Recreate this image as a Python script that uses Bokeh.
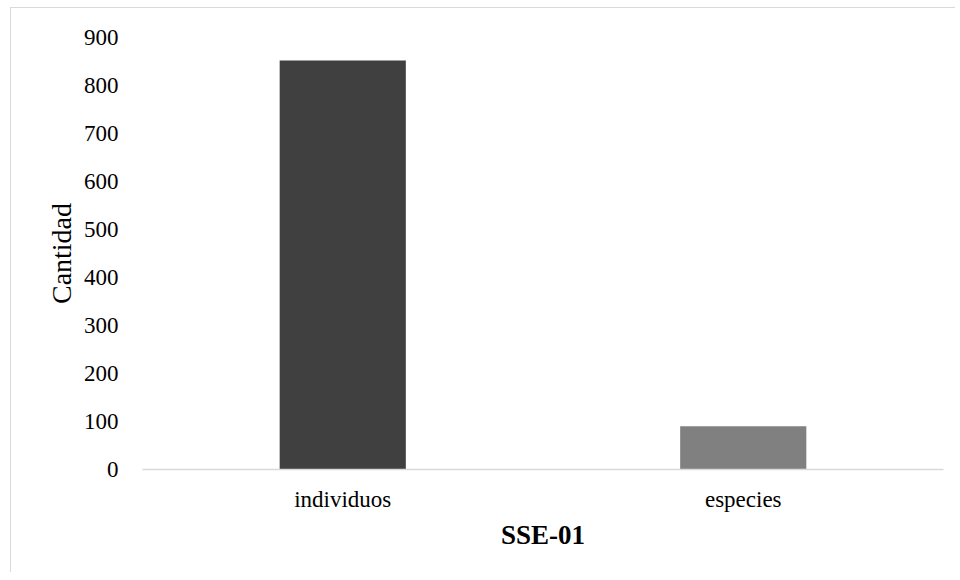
from bokeh.plotting import figure
from bokeh.models import ColumnDataSource, Range1d, SingleIntervalTicker
from bokeh.embed import file_html
from bokeh.resources import INLINE

categories = ["individuos", "especies"]
values = [852, 90]
colors = ["#404040", "#808080"]
x_title = "SSE-01"
y_title = "Cantidad"

source = ColumnDataSource(data=dict(cat=categories, val=values, color=colors))

p = figure(x_range=categories, y_range=Range1d(0, 900), width=945, height=565,
           output_backend="svg", toolbar_location=None,
           min_border_left=131, min_border_right=13, min_border_top=29, min_border_bottom=104)
p.styles = {"border-top": "1.5px solid #d9d9d9", "border-left": "1.5px solid #d9d9d9",
            "margin-left": "10px", "margin-top": "7px"}

p.vbar(x="cat", top="val", width=0.315, color="color", source=source, line_color=None)

FONT = "Liberation Serif"
p.outline_line_color = None
p.background_fill_color = "white"
p.border_fill_color = "white"
p.xgrid.grid_line_color = None
p.ygrid.grid_line_color = None

p.yaxis.ticker = SingleIntervalTicker(interval=100)
p.yaxis.axis_line_color = None
p.yaxis.major_tick_line_color = None
p.yaxis.minor_tick_line_color = None
p.yaxis.major_label_text_font = FONT
p.yaxis.major_label_text_font_size = "23px"
p.yaxis.major_label_text_color = "#000000"
p.yaxis.major_label_standoff = 18
p.yaxis.axis_label = y_title
p.yaxis.axis_label_text_font = FONT
p.yaxis.axis_label_text_font_size = "28px"
p.yaxis.axis_label_text_font_style = "normal"
p.yaxis.axis_label_text_color = "#000000"
p.yaxis.axis_label_standoff = 4

p.xaxis.axis_line_color = "#d9d9d9"
p.xaxis.axis_line_width = 1.5
p.xaxis.major_tick_line_color = None
p.xaxis.minor_tick_line_color = None
p.xaxis.major_label_text_font = FONT
p.xaxis.major_label_text_font_size = "23px"
p.xaxis.major_label_text_color = "#000000"
p.xaxis.major_label_standoff = 11
p.xaxis.axis_label = x_title
p.xaxis.axis_label_text_font = FONT
p.xaxis.axis_label_text_font_size = "27px"
p.xaxis.axis_label_text_font_style = "bold"
p.xaxis.axis_label_text_color = "#000000"
p.xaxis.axis_label_standoff = 5

open("out.html", "w").write(file_html(p, INLINE))
